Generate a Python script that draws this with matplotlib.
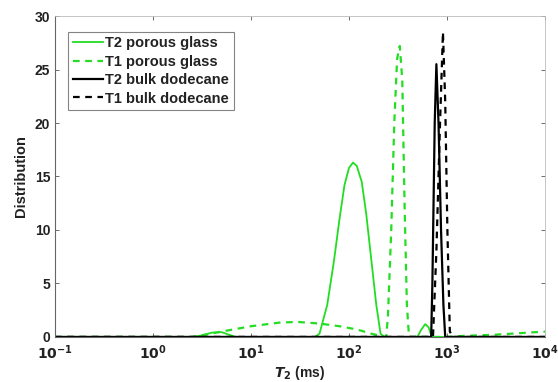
import numpy as np
import matplotlib
matplotlib.use("Agg")
from matplotlib import pyplot as plt

# T2 / T1 relaxation distributions (time in ms)
t2_glass_t = [0.1, 2.5, 3, 4, 5, 6, 7, 45, 50, 60, 70, 80, 90, 100, 110, 120, 135, 150, 170, 190, 210, 230,
              500, 540, 600, 650, 700, 10000]
t2_glass_v = [0, 0, 0.1, 0.4, 0.45, 0.2, 0, 0, 0.3, 3, 7, 11, 14.2, 15.8, 16.3, 16.0, 14.5, 11.5, 7, 3, 0.3, 0,
              0, 0.6, 1.2, 0.9, 0, 0]

t1_glass_t = [0.1, 2.5, 3, 5, 10, 20, 30, 50, 80, 120, 170, 220, 240, 250, 270, 290, 310, 330, 350, 370, 390, 410,
              1000, 1500, 3000, 10000]
t1_glass_v = [0, 0, 0.1, 0.5, 1.0, 1.35, 1.4, 1.25, 1.0, 0.7, 0.3, 0.05, 0, 2, 10, 20, 26, 27.2, 24, 12, 3, 0,
              0, 0.1, 0.2, 0.5]

t2_bulk_t = [0.1, 690, 710, 750, 780, 820, 870, 920, 960, 10000]
t2_bulk_v = [0, 0, 5, 20, 25.5, 20, 10, 3, 0, 0]

t1_bulk_t = [0.1, 720, 780, 850, 910, 960, 1010, 1070, 1150, 10000]
t1_bulk_v = [0, 0, 8, 20, 28.5, 22, 10, 0.5, 0, 0]

green = "#22dd22"

plt.rcParams['font.family'] = ['Liberation Sans', 'DejaVu Sans']
plt.rcParams['font.weight'] = 'bold'
plt.rcParams['axes.labelweight'] = 'bold'
plt.rcParams['mathtext.default'] = 'bf'
fig = plt.figure(figsize=(5.58, 3.82), dpi=100)
ax = fig.add_axes([0.0986, 0.118, 0.878, 0.840])

ax.plot(t2_glass_t, t2_glass_v, color=green, lw=1.3, label="T2 porous glass")
ax.plot(t1_glass_t, t1_glass_v, color=green, lw=1.6, ls=(0, (3, 2.5)), label="T1 porous glass")
ax.plot(t2_bulk_t, t2_bulk_v, color="black", lw=1.6, label="T2 bulk dodecane")
ax.plot(t1_bulk_t, t1_bulk_v, color="black", lw=1.6, ls=(0, (3, 2.5)), label="T1 bulk dodecane")

ax.set_xscale("log")
ax.set_xlim(0.1, 10000)
ax.set_ylim(0, 30)
ax.set_xticks([0.1, 1, 10, 100, 1000, 10000])
ax.set_xticklabels([r"$10^{-1}$", r"$10^{0}$", r"$10^{1}$", r"$10^{2}$", r"$10^{3}$", r"$10^{4}$"])
ax.minorticks_off()
ax.set_yticks([0, 5, 10, 15, 20, 25, 30])
ax.tick_params(direction="in", length=3, labelsize=10, width=0.6, top=True, right=True, colors="#555555",
               labelcolor="#222222")
ax.tick_params(axis="x", pad=5)

for s in ["left", "bottom"]:
    ax.spines[s].set_color("#666666")
    ax.spines[s].set_linewidth(0.8)
for s in ["top", "right"]:
    ax.spines[s].set_color("#bbbbbb")
    ax.spines[s].set_linewidth(0.6)

ax.set_xlabel(r"$\mathit{T}_2$ (ms)", fontsize=10, labelpad=1, color="#222222")
ax.set_ylabel("Distribution", fontsize=10.5, labelpad=5, color="#222222")

leg = ax.legend(loc="upper left", bbox_to_anchor=(0.027, 0.95), fontsize=10.5, frameon=True, fancybox=False,
                handlelength=2.1, handletextpad=0.15, borderpad=0.3, labelspacing=0.3, borderaxespad=0)
leg.get_frame().set_edgecolor("#666666")
leg.get_frame().set_linewidth(0.8)
for txt in leg.get_texts():
    txt.set_color("#222222")

fig.savefig("out.png", dpi=100)
